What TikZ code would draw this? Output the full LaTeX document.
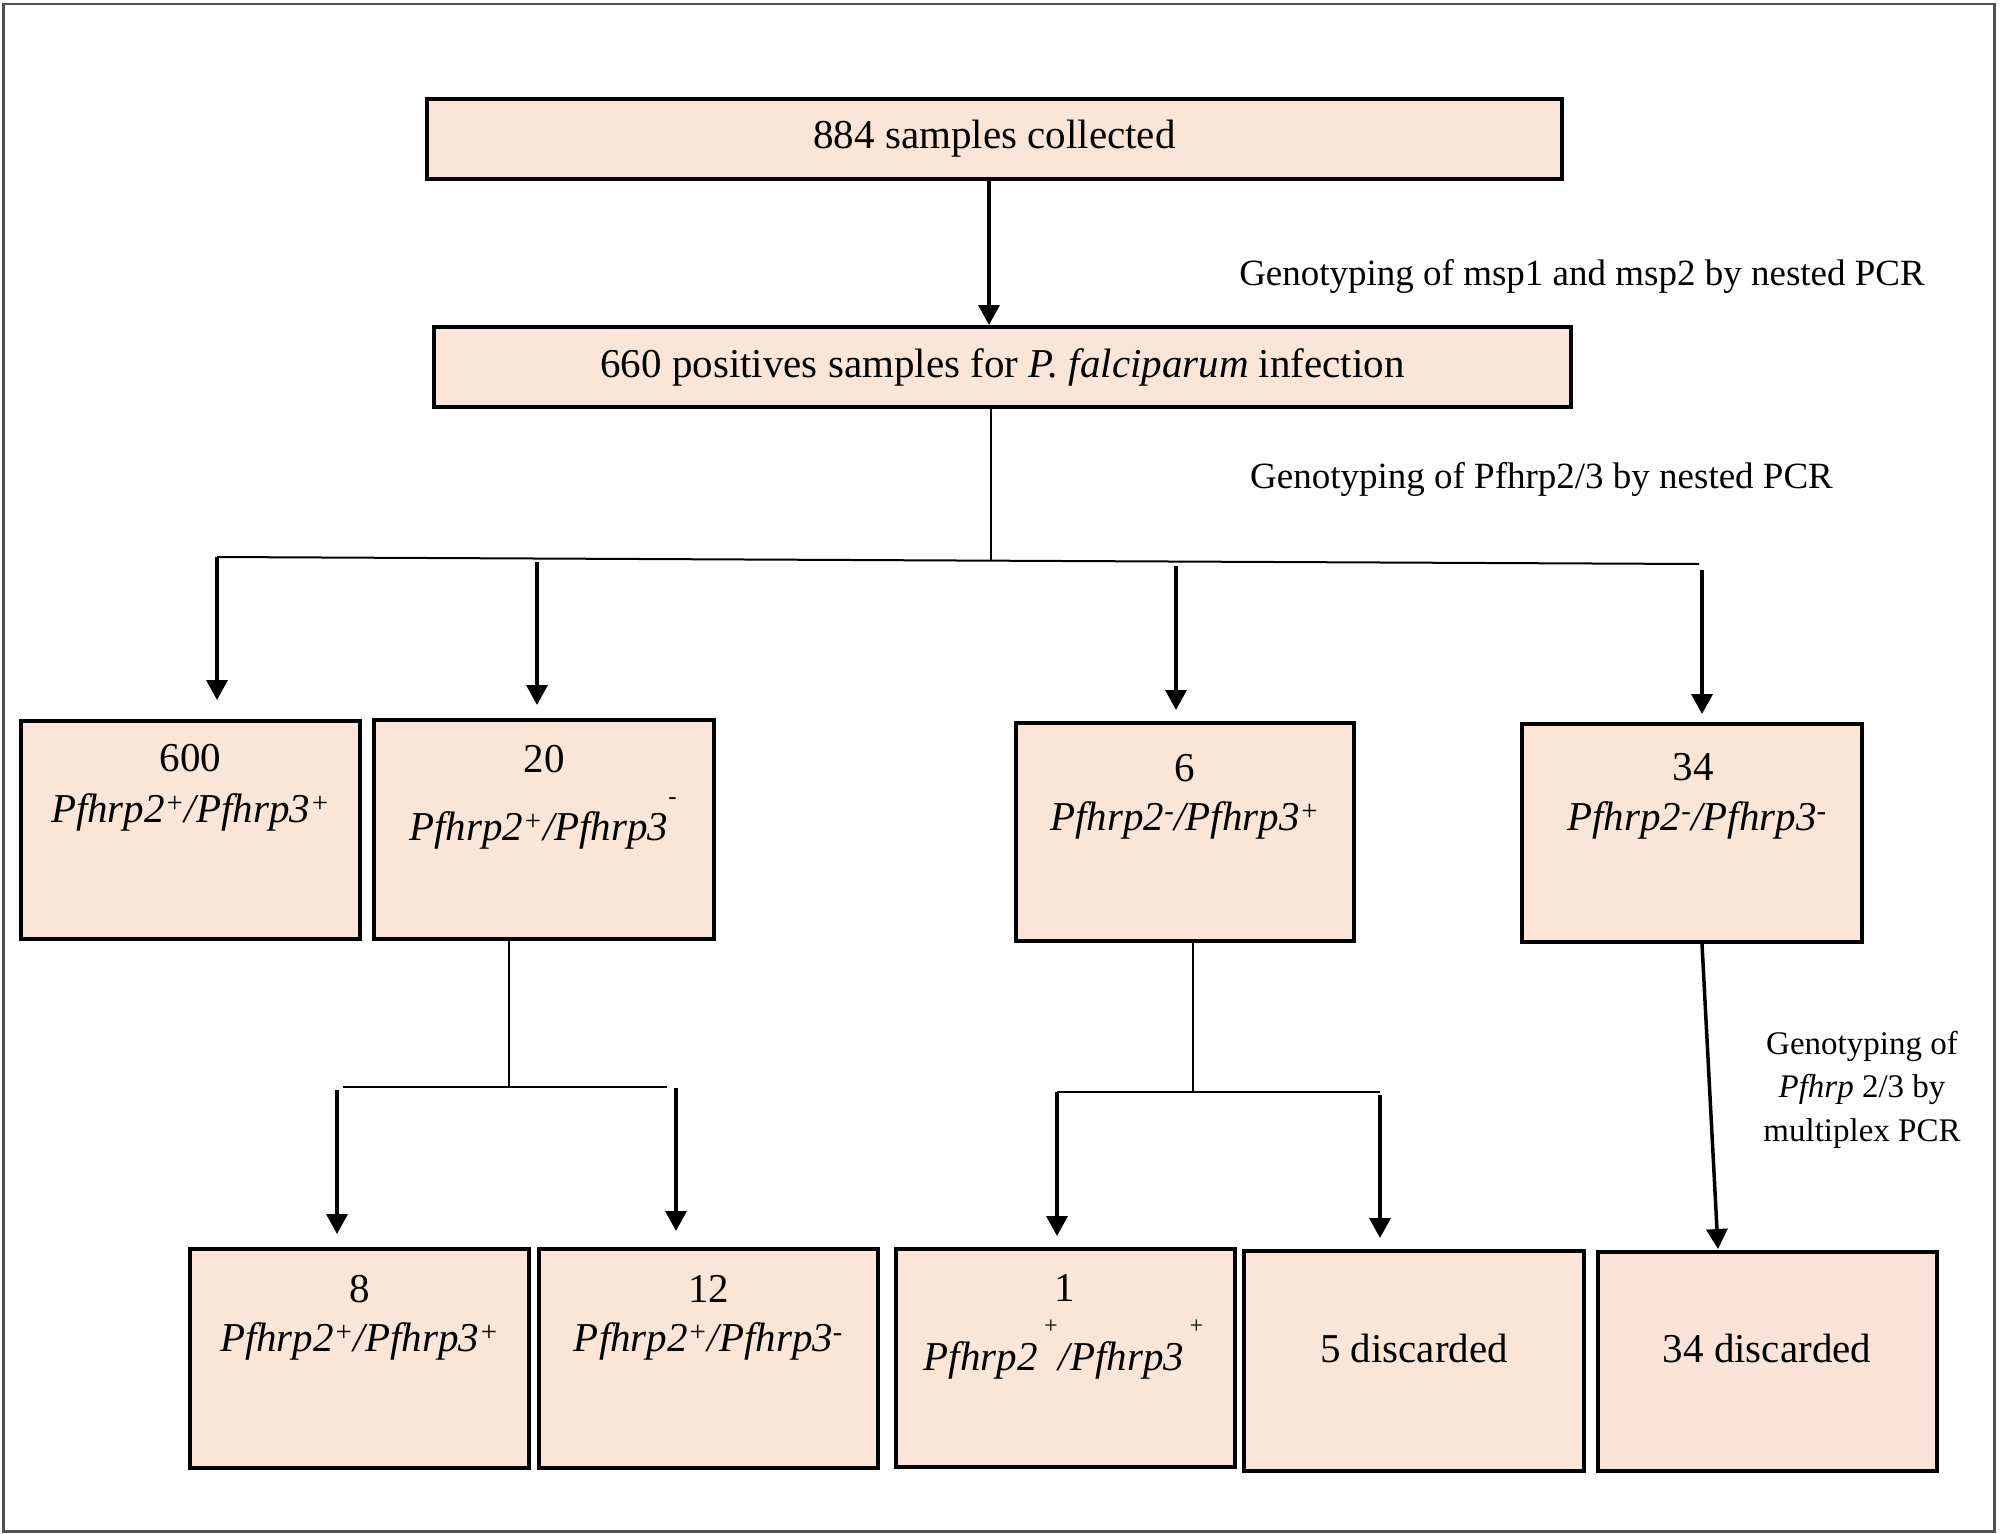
\documentclass[tikz,border=0pt]{standalone}
\usepackage{fontspec}
\setmainfont{Liberation Serif}
\usetikzlibrary{arrows.meta,calc}
\definecolor{peach}{HTML}{FBE5D6}
\definecolor{peachb}{HTML}{FCE3D7}
\definecolor{framegray}{HTML}{505050}
\begin{document}
\begin{tikzpicture}[x=1pt,y=-1pt,
  cell/.style={draw=black, line width=4pt, fill=peach, inner sep=0pt, minimum width=339pt, minimum height=218pt},
  wide/.style={draw=black, line width=4pt, fill=peach, inner sep=0pt, minimum height=80pt, font=\fontsize{41}{49}\selectfont},
  txt/.style={font=\fontsize{41}{49}\selectfont, inner sep=0pt, anchor=base},
  note/.style={font=\fontsize{37}{44}\selectfont, inner sep=0pt, anchor=base},
  thinline/.style={line width=2pt},
  arr/.style={line width=3.5pt, -{Triangle[width=21pt,length=20pt]}},
]
\useasboundingbox (0,0) rectangle (2000,1534);
\draw[framegray, line width=2.5pt] (3.5,4) rectangle (1994.5,1531.5);

% top boxes
\node[wide, minimum width=1135pt] (A) at (994.5,138.5) {884 samples collected};
\node[wide, minimum width=1137pt] (B) at (1002.5,367) {660 positives samples for \textit{P. falciparum} infection};

% row 2
\node[cell] (b600) at (190.5,830) {};
\node[cell, minimum width=340pt, minimum height=219pt] (b20) at (544,829.5) {};
\node[cell, minimum width=338pt] (b6) at (1185,832) {};
\node[cell, minimum width=340pt] (b34) at (1692,833) {};

% row 3
\node[cell, minimum height=219pt] (b8) at (359.5,1358) {};
\node[cell, minimum height=219pt] (b12) at (708.5,1358) {};
\node[cell] (b1) at (1065,1358) {};
\node[cell, minimum width=340pt, minimum height=220pt] (d5) at (1414,1361) {};
\node[cell, minimum width=339pt, minimum height=219pt, fill=peachb] (d34) at (1767,1361.5) {};

% texts row 2
\node[txt] (n600) at (190.5,771) {600};
\node[txt] (g600) at (190.5,822) {\textit{Pfhrp2\textsuperscript{+}/Pfhrp3\textsuperscript{+}}};
\node[txt] (n20) at (544,772) {20};
\node[txt] (g20) at (543,840) {\textit{Pfhrp2\textsuperscript{+}/Pfhrp3\raisebox{36pt}{\fontsize{25}{25}\selectfont -}}};
\node[txt] (n6) at (1185,781) {6};
\node[txt] (g6) at (1185,830) {\textit{Pfhrp2\textsuperscript{-}/Pfhrp3\textsuperscript{+}}};
\node[txt] (n34) at (1693,780) {34};
\node[txt] (g34) at (1697,830) {\textit{Pfhrp2\textsuperscript{-}/Pfhrp3\textsuperscript{-}}};

% texts row 3
\node[txt] (n8) at (359.5,1302) {8};
\node[txt] (g8) at (359.5,1351) {\textit{Pfhrp2\textsuperscript{+}/Pfhrp3\textsuperscript{+}}};
\node[txt] (n12) at (708.5,1302) {12};
\node[txt] (g12) at (708.5,1351) {\textit{Pfhrp2\textsuperscript{+}/Pfhrp3\textsuperscript{-}}};
\node[txt] (n1) at (1065,1301) {1};
\node[txt] (g1) at (1064,1370) {\textit{Pfhrp2\hspace{5pt}\raisebox{37pt}{\fontsize{24}{24}\selectfont +}/Pfhrp3\hspace{4pt}\raisebox{37pt}{\fontsize{24}{24}\selectfont +}}};
\node[txt] (t5) at (1414,1362) {5 discarded};
\node[txt] (t34) at (1767,1362) {34 discarded};

% side notes
\node[note] (m1) at (1582,285) {Genotyping of msp1 and msp2 by nested PCR};
\node[note] (m2) at (1541.5,488) {Genotyping of Pfhrp2/3 by nested PCR};
\node[font=\fontsize{33}{43.5}\selectfont, inner sep=0pt, align=center] (m3) at (1862,1089.5)
  {Genotyping of\\ \textit{Pfhrp} 2/3 by\\ multiplex PCR};

% connectors
\coordinate (a0) at (989,0);
\draw[arr] (A.south -| a0) -- (B.north -| a0);

\coordinate (j0) at (991,560.5);
\coordinate (h1) at (217,557);
\coordinate (h4) at (1699,564);
\draw[thinline] (B.south -| j0) -- (j0);
\draw[thinline] (h1) -- (h4);
\coordinate (s2) at (537,562);
\coordinate (s3) at (1176,566);
\coordinate (s4) at (1702,570);
\draw[arr] (h1) -- ($(b600.north -| h1)+(0,-19)$);
\draw[arr] (s2) -- ($(b20.north -| s2)+(0,-13)$);
\draw[arr] (s3) -- ($(b6.north -| s3)+(0,-11)$);
\draw[arr] (s4) -- ($(b34.north -| s4)+(0,-8)$);

% branch from 20
\coordinate (k0) at (509,1087);
\coordinate (k1) at (343,1087);
\coordinate (k2) at (667,1087);
\draw[thinline] (b20.south -| k0) -- (k0);
\draw[thinline] (k1) -- (k2);
\coordinate (u1) at (337,1090);
\coordinate (u2) at (676,1088);
\draw[arr] (u1) -- ($(b8.north -| u1)+(0,-12.5)$);
\draw[arr] (u2) -- ($(b12.north -| u2)+(0,-15.5)$);

% branch from 6
\coordinate (p0) at (1193,1092);
\coordinate (p1) at (1057,1092);
\coordinate (p2) at (1380,1092);
\draw[thinline] (b6.south -| p0) -- (p0);
\draw[thinline] (p1) -- (p2);
\coordinate (v2) at (1380,1095);
\draw[arr] (p1) -- ($(b1.north -| p1)+(0,-11)$);
\draw[arr] (v2) -- ($(d5.north -| v2)+(0,-11)$);

% arrow 34 -> discarded
\draw[arr] ($(b34.south)+(10,0)$) -- ($(d34.north)+(-49,-1)$);
\end{tikzpicture}
\end{document}
